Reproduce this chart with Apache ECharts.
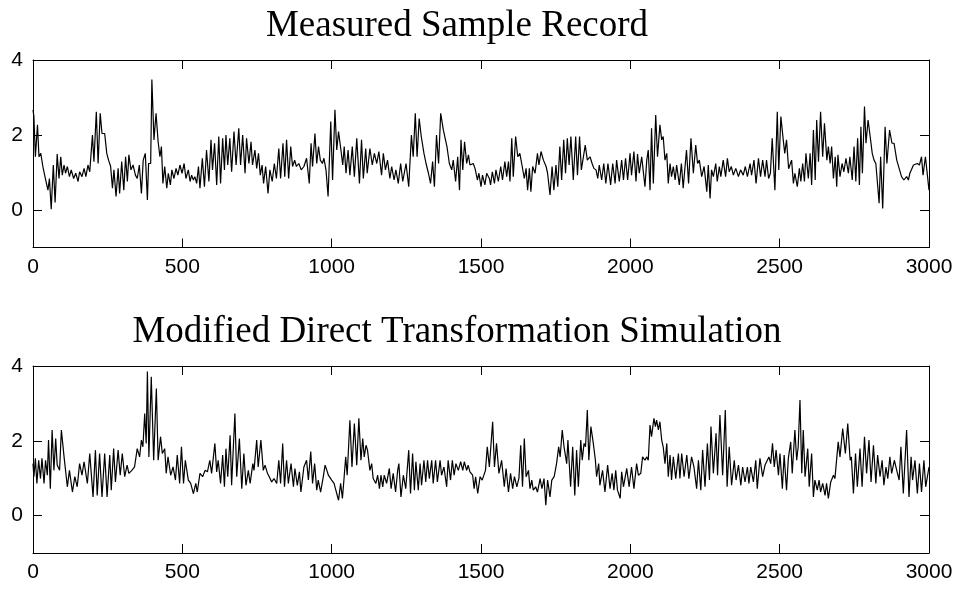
<!DOCTYPE html>
<html><head><meta charset="utf-8">
<script src="https://cdn.jsdelivr.net/npm/echarts@6/dist/echarts.min.js"></script>
<style>html,body{margin:0;padding:0;background:#fff}#c{width:959px;height:590px}</style>
</head><body><div id="c"></div>
<script>
const titles = ['Measured Sample Record', 'Modified Direct Transformation Simulation'];
const xTicks = [0, 500, 1000, 1500, 2000, 2500, 3000];
const yTicks = [0, 2, 4];

const topX = [0,3,8,15,20,26,33,39,45,50,55,61,68,74,81,87,93,98,104,109,115,122,128,136,143,151,156,164,171,177,184,190,199,204,212,218,225,231,240,247,253,260,266,271,278,285,290,297,304,310,316,321,328,335,343,349,356,363,369,376,383,387,394,398,405,412,419,425,430,435,441,448,453,460,465,472,479,485,492,499,506,512,
520,526,531,537,542,548,554,559,567,574,581,589,596,601,608,615,622,628,635,641,646,652,659,665,673,680,689,695,702,710,715,723,730,735,743,749,755,761,767,772,779,787,793,801,808,815,823,829,837,843,849,856,863,869,876,882,890,898,907,916,925,931,936,944,950,956,962,969,974,981,988,997,1003,1011,1017,1023,
1031,1037,1042,1048,1055,1061,1069,1076,1084,1093,1100,1106,1114,1119,1128,1136,1143,1151,1158,1167,1173,1180,1187,1195,1201,1209,1215,1223,1231,1238,1249,1258,1267,1273,1280,1286,1293,1300,1309,1316,1324,1331,1338,1344,1351,1358,1365,1374,1386,1394,1402,1407,1415,1422,1428,1433,1439,1445,1452,1458,1463,1474,1480,1488,1493,1500,1505,1513,1519,1528,
1532,1538,1545,1550,1558,1566,1572,1580,1586,1592,1597,1603,1608,1616,1623,1630,1638,1645,1651,1656,1662,1667,1673,1681,1689,1694,1701,1709,1718,1723,1731,1738,1744,1751,1757,1764,1770,1777,1783,1789,1795,1801,1809,1817,1823,1830,1836,1849,1856,1865,1872,1878,1885,1891,1896,1904,1911,1918,1925,1934,1941,1949,1954,1963,1971,1977,1984,1991,1999,2004,2012,2019,2024,
2030,2038,2049,2055,2060,2066,2071,2077,2085,2091,2099,2105,2110,2116,2122,2127,2133,2138,2144,2150,2155,2164,2171,2177,2188,2195,2203,2211,2219,2225,2231,2239,2247,2256,2261,2267,2272,2278,2286,2291,2298,2303,2311,2319,2325,2331,2338,2345,2353,2362,2369,2378,2385,2392,2401,2406,2414,2421,2429,2436,2443,2451,2456,2463,2469,2475,2484,2492,2497,2504,2512,2517,2523,2530,
2540,2546,2551,2559,2566,2571,2577,2583,2588,2596,2602,2607,2613,2619,2624,2630,2637,2644,2650,2658,2663,2669,2674,2680,2686,2691,2695,2702,2709,2715,2722,2730,2735,2743,2749,2755,2761,2767,2772,2777,2784,2789,2796,2803,2810,2816,2822,2827,2833,2838,2845,2853,2859,2868,2876,2883,2892,2900,2908,2916,2925,2931,2936,2948,2954,2961,2968,2975,2980,2988,3000];
const topY = [2.67,2.49,1.42,2.27,1.42,1.51,1.16,0.93,0.89,0.53,0.84,0.02,1.2,0.2,1.49,0.84,1.42,0.93,1.2,0.98,1.16,0.89,1.07,0.84,0.98,0.76,1.02,0.89,1.11,0.89,1.2,1.02,2.0,1.29,2.62,1.24,2.58,2.04,2.04,1.51,1.33,1.16,0.58,1.07,0.36,1.11,0.44,1.29,0.53,1.42,0.76,1.47,1.07,1.2,0.93,0.84,1.2,0.44,1.33,1.51,0.27,1.24,1.24,3.48,1.87,2.58,1.82,1.42,1.69,0.71,1.16,0.58,0.98,0.67,1.07,0.84,1.11,0.93,1.2,0.98,1.24,0.84,
1.07,0.76,0.93,0.8,0.89,0.71,1.16,0.58,1.38,0.62,1.6,0.76,1.87,1.07,1.78,0.67,1.96,0.71,1.91,1.07,2.0,1.2,1.91,1.02,2.09,1.2,2.18,1.2,2.0,0.98,1.91,1.24,1.82,1.2,1.6,1.11,1.51,0.93,1.2,0.71,1.16,0.44,1.07,0.76,1.24,0.84,1.64,0.84,1.78,0.89,1.87,0.84,1.69,1.16,1.33,1.16,1.24,1.07,1.16,1.38,0.71,1.78,1.16,2.04,1.24,1.69,1.33,1.24,1.38,1.07,0.36,2.36,0.8,2.67,1.6,2.09,
1.6,1.2,1.69,0.98,1.6,0.93,1.69,0.89,1.91,0.71,1.87,0.84,1.64,0.98,1.64,1.2,1.51,1.24,1.56,0.93,1.51,1.07,1.33,0.84,1.16,0.8,1.07,0.71,1.24,0.76,1.24,0.62,2.0,1.42,2.58,1.42,2.44,1.96,1.51,1.24,0.98,0.71,1.29,0.62,2.0,1.24,2.58,2.13,1.69,1.24,1.07,1.33,0.76,1.42,0.53,1.87,1.07,1.82,1.24,1.47,1.2,1.24,1.11,0.8,0.98,0.62,0.93,0.67,0.98,0.84,
0.67,1.02,0.71,1.07,0.76,1.16,0.8,1.29,0.89,1.29,0.76,1.91,0.89,1.96,1.42,1.51,1.16,0.84,1.11,0.53,1.11,0.49,1.16,0.98,1.51,1.2,1.56,1.33,1.16,0.98,0.4,1.16,0.53,1.2,0.62,1.69,0.8,1.87,0.98,1.91,1.2,1.96,0.8,1.96,0.93,1.96,1.07,1.73,1.33,1.42,1.24,1.11,1.07,0.84,1.2,0.8,1.24,0.71,1.24,0.67,1.24,0.71,1.33,0.76,1.33,0.8,1.38,0.8,1.51,0.93,1.56,0.76,1.49,
0.98,1.42,0.62,1.33,1.6,0.53,2.18,0.71,2.53,1.42,2.27,1.87,1.96,1.33,1.51,0.71,1.24,0.89,1.16,0.8,1.2,0.67,1.24,0.58,1.6,0.71,1.91,0.98,1.73,1.24,1.33,0.89,1.16,0.49,1.2,0.31,1.07,0.89,1.24,0.76,1.16,0.89,1.33,0.89,1.38,1.02,1.16,0.93,1.11,0.89,1.07,0.93,1.16,0.89,1.24,0.93,1.33,0.71,1.38,0.89,1.33,0.89,1.33,0.84,0.98,1.91,0.53,2.62,1.07,2.49,1.87,1.51,1.87,1.1,
1.33,0.71,0.98,0.62,1.11,0.76,1.24,0.76,1.51,0.84,1.51,0.67,2.13,0.8,2.4,1.29,2.62,1.42,2.31,1.33,1.69,1.24,1.69,0.84,1.42,0.62,1.47,0.89,1.24,1.02,1.38,0.98,1.42,0.8,1.69,0.76,1.91,0.67,2.22,0.98,2.76,1.78,2.4,1.96,1.51,1.33,1.24,0.76,0.18,1.42,0.04,2.22,1.24,2.13,1.78,1.78,1.33,1.11,0.89,0.8,0.89,0.8,0.98,1.2,1.16,1.24,1.2,1.42,0.93,1.42,0.53];

const botX = [0,3,8,13,19,25,30,37,42,48,52,58,64,70,76,81,89,95,104,109,115,122,132,140,148,156,164,171,182,190,201,209,215,223,231,240,248,257,262,270,276,285,292,299,307,315,321,331,340,349,357,363,368,374,379,383,388,396,404,413,419,427,433,441,446,452,461,469,477,483,491,497,504,510,
520,528,537,545,550,559,568,576,584,592,598,609,615,620,628,635,641,646,652,660,665,676,682,691,699,706,713,721,727,736,740,749,754,763,771,777,785,791,799,807,816,823,829,836,842,849,855,864,872,877,885,892,897,907,916,922,930,936,943,950,955,963,972,978,984,989,995,1000,1008,1014,1023,
1030,1036,1041,1047,1052,1061,1068,1076,1084,1091,1098,1104,1109,1115,1120,1128,1134,1139,1148,1154,1160,1165,1171,1176,1184,1193,1199,1206,1214,1221,1225,1232,1240,1248,1258,1264,1271,1277,1282,1290,1296,1301,1309,1315,1321,1327,1335,1340,1348,1354,1363,1368,1376,1385,1390,1398,1404,1410,1416,1424,1432,1439,1444,1452,1457,1463,1472,1477,1482,1489,1497,1504,
1515,1521,1528,1539,1545,1552,1560,1569,1578,1584,1592,1599,1606,1612,1620,1627,1633,1639,1645,1651,1659,1664,1670,1675,1683,1689,1698,1704,1711,1717,1723,1731,1737,1745,1753,1760,1765,1772,1778,1787,1791,1800,1807,1814,1820,1826,1834,1839,1845,1850,1856,1861,1868,1876,1883,1887,1894,1898,1907,1915,1924,1932,1939,1945,1951,1957,1966,1971,1977,1988,1996,2004,2012,2021,2027,
2035,2041,2049,2055,2060,2066,2071,2079,2084,2088,2094,2099,2105,2110,2116,2122,2127,2133,2138,2144,2152,2161,2166,2172,2180,2189,2196,2205,2213,2222,2228,2236,2242,2250,2258,2265,2270,2278,2287,2292,2300,2309,2318,2324,2331,2339,2348,2354,2362,2370,2376,2384,2392,2397,2403,2412,2420,2425,2434,2443,2451,2456,2464,2470,2476,2482,2488,2496,2501,2509,2515,2523,2529,
2537,2542,2551,2557,2562,2568,2574,2579,2585,2594,2599,2607,2613,2618,2626,2632,2637,2644,2652,2657,2663,2671,2680,2685,2696,2702,2711,2720,2728,2736,2740,2747,2754,2760,2769,2776,2784,2791,2799,2806,2814,2822,2828,2836,2843,2849,2856,2862,2869,2875,2884,2892,2900,2906,2914,2925,2933,2940,2945,2953,2961,2968,2975,2983,2989,3000];
const botY = [1.39,1.04,1.53,0.86,1.48,0.99,1.53,0.86,1.48,1.08,2.02,0.72,2.29,1.21,2.06,1.35,1.21,2.29,1.57,1.62,0.77,1.21,0.63,1.04,0.77,1.39,1.08,1.44,0.86,1.66,0.5,1.75,0.54,1.66,0.5,1.66,0.5,1.62,0.68,1.79,0.9,1.75,1.08,1.66,1.04,1.35,1.13,1.21,1.3,1.79,1.57,2.02,1.84,2.73,1.93,3.85,1.57,3.71,1.48,3.4,1.48,2.11,1.66,1.79,1.13,1.57,1.08,1.3,0.95,1.62,0.86,1.84,0.86,1.48,
0.95,0.86,0.59,0.86,0.63,1.13,1.04,1.21,1.17,1.48,1.13,1.93,1.17,1.48,0.86,1.62,0.77,1.79,1.04,2.15,0.81,2.73,1.04,2.06,0.72,1.66,0.81,1.21,0.86,1.39,1.21,2.02,1.3,2.02,1.21,1.35,1.13,1.04,0.9,0.99,0.86,1.48,0.86,1.93,0.77,1.48,0.86,1.39,0.77,1.26,0.81,1.17,0.63,1.3,1.48,0.95,1.71,0.86,1.39,0.68,0.95,0.63,1.04,1.35,1.21,1.08,1.13,0.95,0.86,0.68,0.41,
0.86,0.46,0.95,1.57,1.08,2.55,1.3,2.46,1.35,2.6,1.48,2.06,1.57,1.88,1.75,1.21,1.39,0.99,0.86,1.08,0.72,1.08,0.77,1.08,0.86,1.26,0.72,1.13,0.63,1.21,1.39,0.5,1.08,0.72,1.75,0.59,1.66,0.68,1.44,0.68,1.39,0.81,1.48,0.9,1.48,0.99,1.48,0.86,1.48,0.9,1.48,1.08,1.3,0.77,1.48,0.95,1.48,1.08,1.39,1.21,1.44,1.21,1.44,1.21,1.35,1.17,1.08,0.72,1.04,0.59,1.04,0.95,
1.21,1.84,1.3,2.51,1.3,1.93,1.13,1.48,0.77,1.26,0.63,1.13,0.72,1.04,0.77,1.0,1.88,0.77,2.06,1.04,1.21,0.72,0.95,0.68,0.77,0.63,0.99,0.72,0.99,0.28,0.95,0.5,0.95,1.04,1.39,1.84,1.57,2.29,1.84,1.39,2.02,0.77,1.84,0.54,1.75,0.77,2.02,1.48,1.93,1.84,2.82,1.48,2.38,1.93,1.48,1.04,1.39,0.81,1.21,0.63,1.35,0.72,1.13,0.68,1.21,0.68,0.46,1.17,0.77,1.26,0.77,1.3,0.72,1.39,1.08,
1.13,1.57,1.48,1.57,1.48,2.42,2.11,2.6,2.38,2.55,2.29,2.51,2.02,1.84,1.39,1.93,1.04,1.62,0.95,1.57,0.99,1.66,0.99,1.66,1.04,1.62,0.99,1.57,1.3,0.72,1.48,0.68,1.75,0.77,1.93,0.95,2.38,1.13,2.2,1.08,2.69,1.08,2.82,0.77,1.84,0.81,1.48,0.95,1.35,0.81,1.3,0.9,1.3,0.86,1.3,0.9,1.48,0.72,1.53,1.04,1.35,1.3,1.57,1.39,1.93,1.3,1.75,1.08,1.66,0.72,1.62,0.68,1.53,
1.97,1.13,2.29,1.48,1.84,3.09,1.13,2.29,1.04,1.79,0.77,1.66,0.5,0.95,0.68,0.95,0.63,0.86,0.54,0.86,0.46,0.9,1.08,0.99,1.97,1.57,2.33,1.66,2.46,1.48,1.57,0.59,1.66,0.77,1.79,0.77,2.11,1.13,2.02,0.9,1.88,0.86,1.62,1.04,1.48,0.81,1.3,0.99,1.57,1.13,1.48,1.21,0.95,1.84,0.59,2.29,0.5,1.57,0.95,1.48,0.59,1.39,0.63,1.48,0.77,1.3];

const chart = echarts.init(document.getElementById('c'), null, {renderer: 'canvas'});
const tickFont = {color: '#000', fontSize: 21, fontFamily: 'Liberation Sans, Arial, sans-serif'};
const plain = v => String(v);
const grids = [
  {left: 33, right: 30, top: 60, height: 187.5},
  {left: 33, right: 30, top: 366, height: 187}
];
function xAx(g, pos, labels) {
  return {type: 'value', gridIndex: g, position: pos, min: 0, max: 3000, interval: 500,
    axisLine: {show: true, onZero: false, lineStyle: {color: '#000', width: 1}},
    axisTick: {show: true, inside: true, length: 9, lineStyle: {color: '#000', width: 1}},
    axisLabel: labels ? Object.assign({show: true, margin: 9, customValues: xTicks, formatter: plain}, tickFont) : {show: false},
    splitLine: {show: false}};
}
function yAx(g, pos, labels) {
  return {type: 'value', gridIndex: g, position: pos, min: -1, max: 4,
    axisLine: {show: true, onZero: false, lineStyle: {color: '#000', width: 1}},
    axisTick: {show: true, inside: true, length: 9, customValues: yTicks, lineStyle: {color: '#000', width: 1}},
    axisLabel: labels ? Object.assign({show: true, margin: 10, customValues: yTicks, formatter: plain}, tickFont) : {show: false},
    splitLine: {show: false}};
}
const titleStyle = {fontFamily: 'Liberation Serif, Times New Roman, serif', fontSize: 37, fontWeight: 'normal', color: '#000'};
chart.setOption({
  animation: false,
  backgroundColor: '#fff',
  title: [
    {text: titles[0], left: 452, top: 3, textAlign: 'center', textStyle: titleStyle},
    {text: titles[1], left: 452, top: 309, textAlign: 'center', textStyle: titleStyle}
  ],
  grid: grids,
  xAxis: [xAx(0, 'bottom', true), xAx(0, 'top', false), xAx(1, 'bottom', true), xAx(1, 'top', false)],
  yAxis: [yAx(0, 'left', true), yAx(0, 'right', false), yAx(1, 'left', true), yAx(1, 'right', false)],
  series: [
    {type: 'line', xAxisIndex: 0, yAxisIndex: 0, showSymbol: false, silent: true,
     lineStyle: {color: '#000', width: 1.2}, data: topX.map((x, i) => [x, topY[i]])},
    {type: 'line', xAxisIndex: 2, yAxisIndex: 2, showSymbol: false, silent: true,
     lineStyle: {color: '#000', width: 1.2}, data: botX.map((x, i) => [x, botY[i]])}
  ]
});
</script></body></html>
